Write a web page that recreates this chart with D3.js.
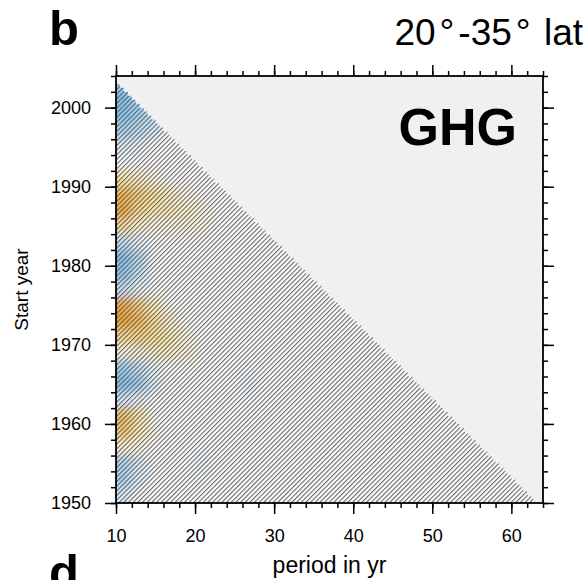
<!DOCTYPE html>
<meta charset="utf-8">
<html>
<head>
<script src="https://d3js.org/d3.v7.min.js"></script>
<style>
  body { margin: 0; background: white; }
  text { font-family: "Liberation Sans", Arial, Helvetica, sans-serif; fill: black; }
</style>
</head>
<body>
<svg id="chart" width="587" height="580"></svg>
<script>
// period centres of the colour cells (2 yr wide)
var periods = [11, 13, 15, 17, 19, 21, 23, 25, 27, 29];
// start year centres of the colour cells (2 yr tall)
var startYears = [2003, 2001, 1999, 1997, 1995, 1993, 1991, 1989, 1987, 1985,
                  1983, 1981, 1979, 1977, 1975, 1973, 1971, 1969, 1967, 1965,
                  1963, 1961, 1959, 1957, 1955, 1953, 1951];
// one row per start year, one value per period (>0 orange, <0 blue)
var spectrum = [
  [-0.6, -0.3, 0, 0, 0, 0, 0, 0, 0, 0],
  [-0.75, -0.5, -0.2, 0, 0, 0, 0, 0, 0, 0],
  [-0.7, -0.5, -0.3, 0, 0, 0, 0, 0, 0, 0],
  [-0.45, -0.35, -0.2, 0, 0, 0, 0, 0, 0, 0],
  [-0.15, -0.1, 0, 0, 0, 0, 0, 0, 0, 0],
  [0, 0, 0, 0, 0, 0, 0, 0, 0, 0],
  [0.35, 0.25, 0.1, 0, 0, 0, 0, 0, 0, 0],
  [0.85, 0.6, 0.45, 0.25, 0.1, 0, 0, 0, 0, 0],
  [0.95, 0.5, 0.35, 0.3, 0.2, 0.1, 0, 0, 0, 0],
  [0.45, 0.2, 0.1, 0.1, 0.15, 0.08, 0, 0, 0, 0],
  [-0.3, -0.1, 0, 0, 0, 0, 0, 0, 0, 0],
  [-0.75, -0.4, 0, 0, 0, 0, 0, 0, 0, 0],
  [-0.65, -0.3, 0, 0, 0, 0, 0, 0, 0, 0],
  [-0.3, -0.1, 0, 0, 0, 0, 0, 0, 0, 0],
  [0.95, 0.6, 0.25, 0, 0, 0, 0, 0, 0, 0],
  [1.0, 0.8, 0.45, 0.2, 0, 0, 0, 0, 0, 0],
  [0.5, 0.55, 0.45, 0.3, 0.12, 0, 0, 0, 0, 0],
  [0.1, 0.15, 0.25, 0.25, 0.15, 0, 0, 0, 0, 0],
  [-0.55, -0.35, -0.1, 0, 0, 0, 0, 0, 0, 0],
  [-0.75, -0.55, -0.15, 0, 0, 0, 0, 0, -0.12, 0],
  [-0.2, -0.1, 0, 0, 0, 0, 0, 0, 0, 0],
  [0.75, 0.35, 0, 0, 0, 0, 0, 0, 0, 0],
  [0.65, 0.3, 0.1, 0, 0, 0, 0, 0, 0, 0],
  [0.15, 0.1, 0, 0, 0, 0, 0, 0, 0, 0],
  [-0.45, -0.2, 0, 0, 0, -0.1, 0, 0, 0, 0],
  [-0.45, -0.15, 0, 0, 0, 0, 0, 0, 0, 0],
  [-0.2, -0.05, 0, 0, 0, 0, 0, 0, 0, 0]
];
var lastYear = 2013;          // start year + period must not pass this
var periodTicks = [10, 20, 30, 40, 50, 60];
var yearTicks = [1950, 1960, 1970, 1980, 1990, 2000];

var margin = {top: 76, left: 116},
    width = 427,
    height = 427;

var svg = d3.select("#chart");

var x = d3.scaleLinear().domain([10, 64]).range([margin.left, margin.left + width]);
var y = d3.scaleLinear().domain([1950, 2004]).range([margin.top + height, margin.top]);

var color = d3.scaleLinear()
    .domain([-1, -0.5, 0, 0.4, 1])
    .range(["#5fb2ee", "#a6d4f4", "#ffffff", "#fde7a2", "#f7a82e"]);

var defs = svg.append("defs");

// hatching for the region that is not significant
var hatch = defs.append("pattern")
    .attr("id", "hatch")
    .attr("patternUnits", "userSpaceOnUse")
    .attr("width", 3.3)
    .attr("height", 10)
    .attr("patternTransform", "rotate(45)");
hatch.append("line")
    .attr("x1", 0.6).attr("y1", 0)
    .attr("x2", 0.6).attr("y2", 10)
    .style("stroke", "#555")
    .style("stroke-width", 1);

defs.append("filter")
    .attr("id", "smooth")
    .attr("x", "-20%").attr("y", "-20%")
    .attr("width", "140%").attr("height", "140%")
  .append("feGaussianBlur")
    .attr("stdDeviation", 5);

// staircase outline of the valid (start year, period) region
var valid = [[10, 1950]];
for (var p = 10; p < 64; p += 0.5) {
  var ceiling = Math.max(1950, Math.floor((lastYear - p) * 2) / 2);
  valid.push([p, ceiling]);
  valid.push([p + 0.5, ceiling]);
}
var validPath = d3.line()
    .x(function(d) { return x(d[0]); })
    .y(function(d) { return y(d[1]); })(valid) + "Z";

defs.append("clipPath")
    .attr("id", "validClip")
  .append("path")
    .attr("d", validPath);

// grey background outside the cone
svg.append("rect")
    .attr("x", x(10)).attr("y", y(2004))
    .attr("width", width).attr("height", height)
    .style("fill", "#f0f0f0");

svg.append("path")
    .attr("d", validPath)
    .style("fill", "white");

// colour field
var cells = [];
startYears.forEach(function(yr, i) {
  periods.forEach(function(pc, j) {
    if (spectrum[i][j] !== 0) cells.push({year: yr, period: pc, value: spectrum[i][j]});
  });
});

svg.append("g")
    .attr("clip-path", "url(#validClip)")
  .append("g")
    .attr("filter", "url(#smooth)")
  .selectAll("rect")
  .data(cells)
  .enter().append("rect")
    .attr("x", function(d) { return x(d.period === periods[0] ? d.period - 4 : d.period - 1); })
    .attr("y", function(d) { return y(d.year + 1); })
    .attr("width", function(d) { return x(d.period + 1) - x(d.period === periods[0] ? d.period - 4 : d.period - 1); })
    .attr("height", function(d) { return y(d.year - 1) - y(d.year + 1); })
    .style("fill", function(d) { return color(d.value); });

svg.append("path")
    .attr("d", validPath)
    .style("fill", "url(#hatch)");

// axes: major and minor ticks on all four sides
function styleAxis(g) {
  g.select(".domain").remove();
  g.selectAll(".tick line").style("stroke", "black").style("stroke-width", 1.5);
  g.selectAll("text").style("font-size", "18px").style("font-family", "Liberation Sans, Arial, sans-serif");
}
var minorX = d3.range(10, 65, 2), minorY = d3.range(1950, 2005, 2);

svg.append("g").attr("transform", "translate(0," + y(1950) + ")")
    .call(d3.axisBottom(x).tickValues(minorX).tickSize(5).tickFormat("")).call(styleAxis);
svg.append("g").attr("transform", "translate(0," + y(1950) + ")")
    .call(d3.axisBottom(x).tickValues(periodTicks).tickSize(11).tickPadding(15)).call(styleAxis);
svg.append("g").attr("transform", "translate(0," + y(2004) + ")")
    .call(d3.axisTop(x).tickValues(minorX).tickSize(5).tickFormat("")).call(styleAxis);
svg.append("g").attr("transform", "translate(0," + y(2004) + ")")
    .call(d3.axisTop(x).tickValues(periodTicks).tickSize(11).tickFormat("")).call(styleAxis);

svg.append("g").attr("transform", "translate(" + x(10) + ",0)")
    .call(d3.axisLeft(y).tickValues(minorY).tickSize(5).tickFormat("")).call(styleAxis);
svg.append("g").attr("transform", "translate(" + x(10) + ",0)")
    .call(d3.axisLeft(y).tickValues(yearTicks).tickSize(11).tickPadding(14).tickFormat(d3.format("d"))).call(styleAxis);
svg.append("g").attr("transform", "translate(" + x(64) + ",0)")
    .call(d3.axisRight(y).tickValues(minorY).tickSize(5).tickFormat("")).call(styleAxis);
svg.append("g").attr("transform", "translate(" + x(64) + ",0)")
    .call(d3.axisRight(y).tickValues(yearTicks).tickSize(11).tickFormat("")).call(styleAxis);

// frame
svg.append("rect")
    .attr("x", x(10)).attr("y", y(2004))
    .attr("width", width).attr("height", height)
    .style("fill", "none")
    .style("stroke", "black")
    .style("stroke-width", 1.8);

// labels
svg.append("text")
    .attr("x", x(10) + width / 2).attr("y", 573)
    .attr("text-anchor", "middle")
    .style("font-size", "23px")
    .text("period in yr");

svg.append("text")
    .attr("transform", "translate(28," + (y(1950) + y(2004)) / 2 + ")rotate(-90)")
    .attr("text-anchor", "middle")
    .style("font-size", "19px")
    .text("Start year");

svg.append("text")
    .attr("x", 517).attr("y", 145)
    .attr("text-anchor", "end")
    .style("font-size", "52px")
    .style("font-weight", "bold")
    .text("GHG");

svg.append("text")
    .attr("x", 49).attr("y", 45)
    .style("font-size", "49px")
    .style("font-weight", "bold")
    .text("b");

svg.append("text")
    .attr("x", 49).attr("y", 589)
    .style("font-size", "49px")
    .style("font-weight", "bold")
    .text("d");

var title = svg.append("text")
    .attr("x", 583).attr("y", 45)
    .attr("text-anchor", "end")
    .style("font-size", "37px");
title.append("tspan").text("20");
title.append("tspan").attr("dx", 4).text("°");
title.append("tspan").attr("dx", 4).text("-35");
title.append("tspan").attr("dx", 4).text("°");
title.append("tspan").attr("dx", 3).text(" lat");
</script>
</body>
</html>
